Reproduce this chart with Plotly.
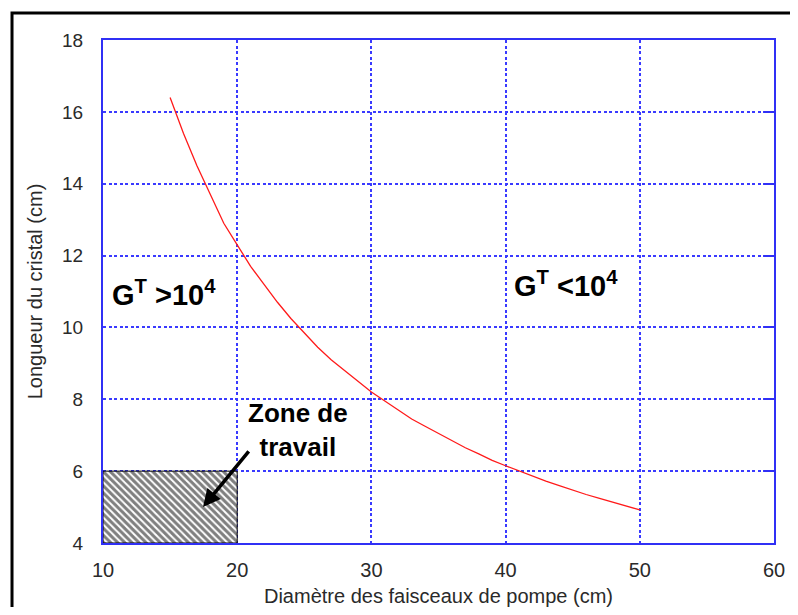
import plotly.graph_objects as go

# Curve data (diameter of pump beams vs crystal length)
diametre = [15, 16, 17, 18, 19, 20, 21, 22, 23, 24, 25, 26, 27, 28, 29, 30,
            31, 32, 33, 34, 35, 36, 37, 38, 39, 40, 41, 42, 43, 44, 45, 46,
            47, 48, 49, 50]
longueur = [16.4, 15.4, 14.5, 13.7, 12.9, 12.3, 11.7, 11.2, 10.7, 10.25, 9.85,
            9.45, 9.1, 8.8, 8.5, 8.2, 7.95, 7.7, 7.45, 7.25, 7.05, 6.85, 6.65,
            6.48, 6.3, 6.15, 6.0, 5.86, 5.72, 5.6, 5.47, 5.35, 5.24, 5.13,
            5.02, 4.92]

# Working zone rectangle corners
zone_x = [10, 20, 20, 10, 10]
zone_y = [4, 4, 6, 6, 4]

x_ticks = [10, 20, 30, 40, 50, 60]
y_ticks = [4, 6, 8, 10, 12, 14, 16, 18]

BLUE = "#3030f5"
GRID = "#3a3aff"

fig = go.Figure()

fig.add_trace(go.Scatter(
    x=zone_x, y=zone_y, mode="lines", fill="toself",
    line=dict(color="black", width=1),
    fillcolor="white",
    fillpattern=dict(shape="\\", fgcolor="black", bgcolor="white",
                     size=5, solidity=0.6),
    hoverinfo="skip", showlegend=False))

fig.add_trace(go.Scatter(
    x=diametre, y=longueur, mode="lines",
    line=dict(color="#ff1a1a", width=1.3),
    showlegend=False))

# invisible trace for right-side axis ticks
fig.add_trace(go.Scatter(x=[10], y=[4], yaxis="y2", mode="markers",
                         marker=dict(opacity=0), showlegend=False,
                         hoverinfo="skip"))

fig.update_layout(
    width=782, height=599,
    margin=dict(l=95, r=16, t=32, b=64, autoexpand=False),
    paper_bgcolor="white", plot_bgcolor="white",
    font=dict(family="Arial, Liberation Sans, sans-serif", color="#2a2a2a"),
    xaxis=dict(range=[10, 60], tickvals=x_ticks, ticks="", automargin=False,
               showline=True, linecolor=BLUE, linewidth=2, mirror=True,
               showgrid=True, gridcolor=GRID, gridwidth=1.5,
               griddash="3px,2.5px", zeroline=False,
               tickfont=dict(size=20), ticklabelstandoff=8,
               title=dict(text="Diamètre des faisceaux de pompe (cm)",
                          font=dict(size=20), standoff=12)),
    yaxis=dict(range=[4, 18], tickvals=y_ticks, ticks="", automargin=False,
               showline=True, linecolor=BLUE, linewidth=2, mirror=True,
               showgrid=True, gridcolor=GRID, gridwidth=1.5,
               griddash="3px,2.5px", zeroline=False,
               tickfont=dict(size=19), ticklabelstandoff=14,
               title=dict(text="Longueur du cristal (cm)",
                          font=dict(size=20), standoff=14)),
    yaxis2=dict(range=[4, 18], tickvals=y_ticks, overlaying="y", side="right",
                ticks="inside", ticklen=10, tickcolor=BLUE, tickwidth=2,
                showticklabels=False, showgrid=False, zeroline=False,
                showline=False, automargin=False),
    shapes=[dict(type="rect", xref="paper", yref="paper",
                 x0=-0.1356, x1=1.2, y0=-0.3, y1=1.0537,
                 line=dict(color="black", width=3), layer="above")],
    annotations=[
        dict(x=10.55, y=10.95, xref="x", yref="y", xanchor="left",
             yanchor="middle", showarrow=False,
             text="<b>G<sup>T</sup> &gt;10<sup>4</sup></b>",
             font=dict(size=29, color="black")),
        dict(x=40.5, y=11.2, xref="x", yref="y", xanchor="left",
             yanchor="middle", showarrow=False,
             text="<b>G<sup>T</sup> &lt;10<sup>4</sup></b>",
             font=dict(size=29, color="black")),
        dict(x=24.5, y=7.15, xref="x", yref="y", showarrow=False,
             text="<b>Zone de<br>travail</b>",
             font=dict(size=26, color="black")),
        dict(x=17.45, y=5.0, ax=20.95, ay=6.59, xref="x", yref="y",
             axref="x", ayref="y", text="", showarrow=True,
             arrowhead=2, arrowsize=1, arrowwidth=3.5, arrowcolor="black"),
    ],
)

fig.write_html("out.html")
